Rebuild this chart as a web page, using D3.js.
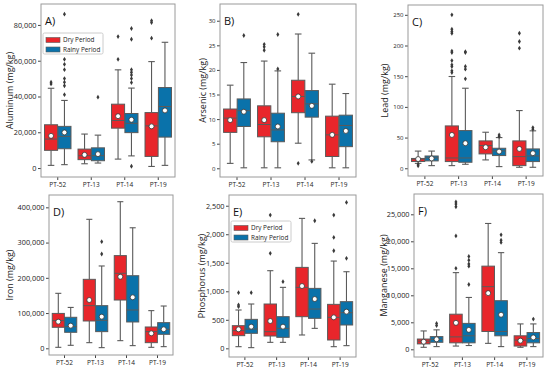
<!DOCTYPE html>
<html><head><meta charset="utf-8">
<script src="https://cdn.jsdelivr.net/npm/d3@7"></script>
<style>body{margin:0;background:#fff} text{font-family:"Open Sans",sans-serif}</style>
</head><body>
<script>
var categories = ["PT-52", "PT-13", "PT-14", "PT-19"];
var periods = ["Dry Period", "Rainy Period"];
var colors = ["#e8262b", "#0a72aa"];

// each box: [whiskerLow, q1, median, q3, whiskerHigh, mean, outliers]
var aluminumDry = [
  [1500, 9900, 16200, 24200, 44600, 18000, [47000, 48000]],
  [2400, 4700, 6900, 10600, 19000, 7400, []],
  [5000, 22300, 26600, 35700, 54900, 29000, [60800, 73500]],
  [900, 6500, 23600, 31000, 59500, 23300, [72600, 81300, 82400]]
];
var aluminumRainy = [
  [1900, 10800, 17700, 23300, 37800, 19900, [41000, 46000, 48000, 50000, 55000, 58000, 60800, 86000]],
  [2800, 4100, 6900, 11300, 18400, 7800, [39600]],
  [6800, 19800, 25000, 30500, 44700, 27000, [1000, 47800, 50000, 52000, 53500, 55000, 72000, 78000]],
  [1500, 17300, 34400, 45000, 70300, 32200, []]
];
var arsenicDry = [
  [1.0, 7.3, 10.2, 12.05, 16.9, 9.8, []],
  [0.1, 6.4, 8.9, 12.7, 21.8, 9.8, [24.0, 24.7, 25.2]],
  [5.1, 11.3, 14.6, 17.9, 27.3, 14.6, [1.0, 31.3]],
  [0.1, 2.4, 6.8, 10.6, 17.1, 6.8, []]
];
var arsenicRainy = [
  [0.1, 8.5, 11.7, 14.1, 21.5, 11.5, [27.0]],
  [0.1, 5.4, 7.8, 11.2, 19.8, 8.5, [20.2, 27.2]],
  [1.7, 10.4, 13.1, 15.8, 23.4, 12.7, [1.4]],
  [0.1, 4.4, 8.7, 10.8, 15.2, 7.6, []]
];
var leadDry = [
  [8, 11, 15, 16, 28, 15, [4, 6.5]],
  [4.3, 10.9, 16.8, 69, 149.5, 54.3, [156, 158.7, 165.8, 168.5, 175.5, 188.6, 191, 220, 222.8, 226.6, 250]],
  [13.6, 23.4, 37, 44.6, 58.7, 34.2, []],
  [1.6, 4.3, 19, 44.6, 94, 31.5, [195.7, 206.5, 220]]
];
var leadRainy = [
  [4.3, 12, 17, 20, 28, 16, []],
  [6.5, 9.8, 16.8, 61.4, 130.4, 40.8, [145.7, 161.4, 165.8, 188.6, 190]],
  [2.7, 20.7, 28.3, 32.6, 50, 27.2, [51.6, 54.3]],
  [1.6, 10.9, 20.1, 31.5, 61, 24.5, [63.6, 66.3]]
];
var ironDry = [
  [2800, 59600, 78500, 99000, 156000, 75600, []],
  [16000, 77500, 121000, 195700, 366000, 137000, []],
  [21700, 137000, 212800, 263000, 416000, 203000, []],
  [2800, 16000, 47300, 60500, 106900, 42500, []]
];
var ironRainy = [
  [8500, 45400, 61500, 88000, 116000, 64300, []],
  [1900, 47300, 79400, 121000, 233600, 89800, [267600, 302600]],
  [7600, 74700, 108700, 206000, 342000, 144700, []],
  [4700, 39700, 53900, 72800, 120000, 53900, []]
];
var phosphorusDry = [
  [29, 222, 310, 397, 672, 333, [730, 760, 975]],
  [105, 216, 292, 777, 1361, 479, [1665, 2336]],
  [234, 555, 1069, 1419, 2278, 1092, []],
  [29, 146, 543, 771, 1530, 543, [1711, 1945, 2336]]
];
var phosphorusRainy = [
  [12, 263, 339, 508, 777, 380, [975]],
  [105, 193, 350, 555, 1069, 380, [1168]],
  [350, 526, 689, 1051, 1840, 864, [2237]],
  [47, 409, 625, 818, 1343, 643, [1577, 2558]]
];
var manganeseDry = [
  [370, 1000, 1500, 1900, 3400, 1400, []],
  [600, 1200, 2300, 6500, 14200, 4900, [15000, 21000, 26400, 26900, 27300]],
  [1100, 3300, 11600, 15400, 23300, 10400, []],
  [370, 600, 1700, 2500, 4700, 1600, []]
];
var manganeseRainy = [
  [500, 1300, 1850, 2350, 3600, 1850, [4400, 4800]],
  [700, 1200, 2500, 4800, 9600, 3600, [12000, 15400, 15800, 16500, 17200]],
  [500, 2500, 3300, 9000, 17900, 6400, [19800, 20200, 21200]],
  [500, 1200, 2000, 3100, 4700, 2200, [5600]]
];

var panels = [
  {letter: "A)", label: "Aluminum (mg/kg)", dry: aluminumDry, rainy: aluminumRainy,
   ticks: [0, 20000, 40000, 60000, 80000], domain: [-5000, 91700],
   frame: [41, 4, 175, 177], labelX: 10, tickFont: 7.3, legend: [43, 33]},
  {letter: "B)", label: "Arsenic (mg/kg)", dry: arsenicDry, rainy: arsenicRainy,
   ticks: [0, 5, 10, 15, 20, 25, 30], domain: [-1.77, 33.4],
   frame: [220, 4, 356, 177], labelX: 203, tickFont: 6},
  {letter: "C)", label: "Lead (mg/kg)", dry: leadDry, rainy: leadRainy,
   ticks: [0, 50, 100, 150, 200, 250], domain: [-12.6, 266],
   frame: [408, 5, 543, 176], labelX: 385, tickFont: 6},
  {letter: "D)", label: "Iron (mg/kg)", dry: ironDry, rainy: ironRainy,
   ticks: [0, 100000, 200000, 300000, 400000], domain: [-19000, 435000],
   frame: [49, 195, 173, 355], labelX: 10, tickFont: 7.3},
  {letter: "E)", label: "Phosphorus (mg/kg)", dry: phosphorusDry, rainy: phosphorusRainy,
   ticks: [0, 500, 1000, 1500, 2000, 2500], domain: [-152, 2688],
   frame: [229, 195, 356, 357], labelX: 202, tickFont: 7.3, legend: [231, 221]},
  {letter: "F)", label: "Manganese (mg/kg)", dry: manganeseDry, rainy: manganeseRainy,
   ticks: [0, 5000, 10000, 15000, 20000, 25000], domain: [-1426, 28759],
   frame: [414, 194, 543, 357], labelX: 384, tickFont: 7.3}
];

var svg = d3.select("body").append("svg")
    .attr("width", 550)
    .attr("height", 371);

var edge = "#5a5a5a";

panels.forEach(function(p) {
  var x0 = p.frame[0], y0 = p.frame[1], x1 = p.frame[2], y1 = p.frame[3];
  var g = svg.append("g");

  var x = d3.scaleBand().domain(categories).range([x0, x1]);
  var y = d3.scaleLinear().domain(p.domain).range([y1, y0]);
  var bw = x.bandwidth();
  var boxW = bw * 0.39;

  // axes
  var yAxis = g.append("g").attr("transform", "translate(" + x0 + ",0)")
      .call(d3.axisLeft(y).tickValues(p.ticks).tickFormat(d3.format(",")).tickSize(3).tickPadding(1.5));
  yAxis.select(".domain").remove();
  yAxis.selectAll("line").attr("stroke", "#444");
  yAxis.selectAll("text").attr("font-size", p.tickFont).attr("fill", "#222")
      .attr("font-family", "Open Sans");

  var xAxis = g.append("g").attr("transform", "translate(0," + y1 + ")")
      .call(d3.axisBottom(x).tickSize(3).tickPadding(2));
  xAxis.select(".domain").remove();
  xAxis.selectAll("line").attr("stroke", "#444");
  xAxis.selectAll("text").attr("font-size", 6.5).attr("fill", "#222")
      .attr("font-family", "Open Sans");

  // boxes
  [p.dry, p.rainy].forEach(function(series, si) {
    series.forEach(function(b, ci) {
      var cx = x(categories[ci]) + bw / 2 + (si == 0 ? -1 : 1) * bw * 0.2;
      var bg = g.append("g");
      bg.append("line").attr("x1", cx).attr("x2", cx)
        .attr("y1", y(b[0])).attr("y2", y(b[1])).attr("stroke", edge).attr("stroke-width", 1.1);
      bg.append("line").attr("x1", cx).attr("x2", cx)
        .attr("y1", y(b[3])).attr("y2", y(b[4])).attr("stroke", edge).attr("stroke-width", 1.1);
      [b[0], b[4]].forEach(function(v) {
        bg.append("line").attr("x1", cx - boxW / 4).attr("x2", cx + boxW / 4)
          .attr("y1", y(v)).attr("y2", y(v)).attr("stroke", edge).attr("stroke-width", 1.1);
      });
      bg.append("rect")
        .attr("x", cx - boxW / 2).attr("width", boxW)
        .attr("y", y(b[3])).attr("height", y(b[1]) - y(b[3]))
        .attr("fill", colors[si]).attr("stroke", edge).attr("stroke-width", 1);
      bg.append("line").attr("x1", cx - boxW / 2).attr("x2", cx + boxW / 2)
        .attr("y1", y(b[2])).attr("y2", y(b[2])).attr("stroke", edge).attr("stroke-width", 1);
      bg.selectAll("path").data(b[6]).enter().append("path")
        .attr("d", "M0,-2.4L1.5,0L0,2.4L-1.5,0Z")
        .attr("transform", function(d) { return "translate(" + cx + "," + y(d) + ")"; })
        .attr("fill", "#3a3a3a");
      bg.append("circle").attr("cx", cx).attr("cy", y(b[5])).attr("r", 2.5)
        .attr("fill", "#fff").attr("stroke", "#333").attr("stroke-width", 0.8);
    });
  });

  // frame
  g.append("rect").attr("x", x0).attr("y", y0)
    .attr("width", x1 - x0).attr("height", y1 - y0)
    .attr("fill", "none").attr("stroke", "#9a9a9a").attr("stroke-width", 1);

  g.append("text").attr("x", x0 + 4).attr("y", y0 + 21)
    .attr("font-size", 11).attr("fill", "#111").text(p.letter);

  g.append("text")
    .attr("transform", "translate(" + p.labelX + "," + ((y0 + y1) / 2) + ") rotate(-90)")
    .attr("text-anchor", "middle").attr("dy", "0.35em")
    .attr("font-size", 9).attr("fill", "#222").text(p.label);

  if (p.legend) {
    var lx = p.legend[0], ly = p.legend[1];
    g.append("rect").attr("x", lx).attr("y", ly).attr("width", 60).attr("height", 21)
      .attr("fill", "#fff").attr("fill-opacity", 0.8).attr("stroke", "#ccc").attr("rx", 1.5);
    periods.forEach(function(name, i) {
      g.append("rect").attr("x", lx + 3).attr("y", ly + 4.5 + i * 9.5)
        .attr("width", 14).attr("height", 5)
        .attr("fill", colors[i]).attr("stroke", edge).attr("stroke-width", 0.6);
      g.append("text").attr("x", lx + 20).attr("y", ly + 7 + i * 9.5)
        .attr("dy", "0.35em").attr("font-size", 6.4).attr("fill", "#222").text(name);
    });
  }
});
</script>
</body></html>
